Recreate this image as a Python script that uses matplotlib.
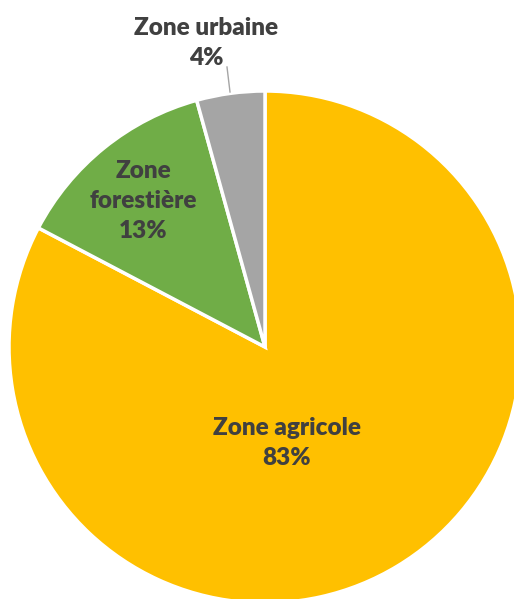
import matplotlib
matplotlib.use('Agg')
import matplotlib.pyplot as plt

labels = ['Zone agricole', 'Zone\nforestière', 'Zone urbaine']
shares = [82.7, 13.0, 4.3]
shown = ['83%', '13%', '4%']
colors = ['#FFC000', '#70AD47', '#A5A5A5']
text_color = '#404040'

W, H = 514, 599
fig = plt.figure(figsize=(W / 100, H / 100), dpi=100)
ax = fig.add_axes([0, 0, 1, 1])

cx, cy, r = 265, H - 347, 256
ax.pie(shares, colors=colors, startangle=90, counterclock=False,
       center=(cx, cy), radius=r,
       wedgeprops=dict(edgecolor='white', linewidth=2.5))

ax.set_xlim(0, W)
ax.set_ylim(0, H)
ax.set_aspect('equal')
ax.axis('off')

font = dict(family='Lato', weight='heavy', size=17.5, color=text_color,
            ha='center', va='center', linespacing=1.45)

# label positions (pixel coords from top)
ax.text(287, H - 443, f'{labels[0]}\n{shown[0]}', **font)
ax.text(143, H - 201, f'{labels[1]}\n{shown[1]}', **font)
ax.text(206, H - 43, f'{labels[2]}\n{shown[2]}', **font)
ax.plot([227, 230], [H - 67, H - 92], color='#A5A5A5', linewidth=1)

fig.savefig('out.png', dpi=100)
